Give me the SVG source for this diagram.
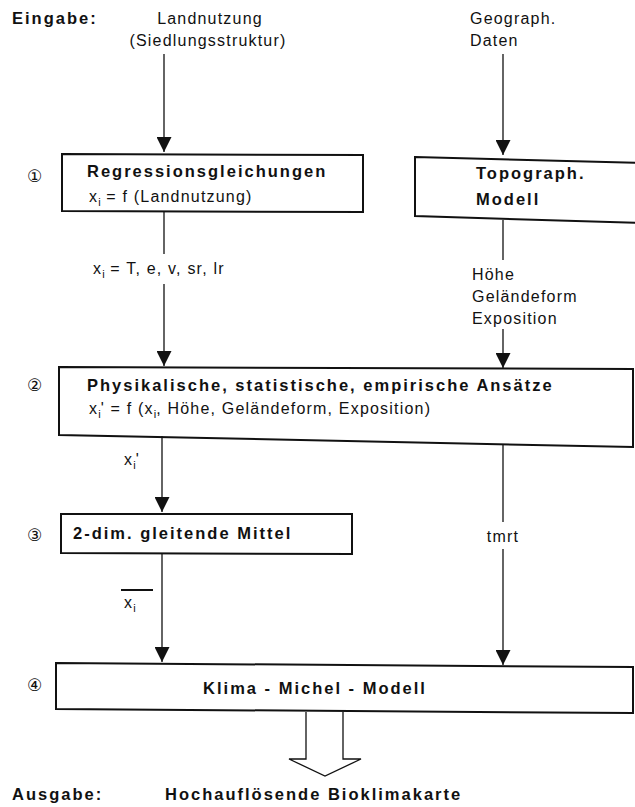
<svg xmlns="http://www.w3.org/2000/svg" width="635" height="807" viewBox="0 0 635 807">
  <style>
    text { font-family: "Liberation Sans", Arial, sans-serif; font-size: 16px; fill: #111; letter-spacing: 1.2px; }
    .b { font-size: 16.5px; font-weight: bold; letter-spacing: 2px; }
    .num { font-family: "DejaVu Sans", sans-serif; font-size: 17px; letter-spacing: 0; }
    .sub { font-size: 11px; letter-spacing: 0; }
    .box { fill: #fff; stroke: #111; stroke-width: 2; }
    .ln { stroke: #111; stroke-width: 1.3; fill: none; }
  </style>
  <defs>
    <marker id="tri" viewBox="0 0 10 10" refX="10" refY="5" markerWidth="15" markerHeight="15" markerUnits="userSpaceOnUse" orient="auto">
      <path d="M0,0 L10,5 L0,10 Z" fill="#111"/>
    </marker>
  </defs>
  <rect width="635" height="807" fill="#fff"/>

  <!-- side labels: input/output headings and step numbers -->
  <g id="labels">
    <text x="27" y="182" class="num">①</text>
    <text x="27" y="391" class="num">②</text>
    <text x="27" y="541" class="num">③</text>
    <text x="27" y="691" class="num">④</text>
    <text x="12" y="24" class="b">Eingabe:</text>
    <text x="12" y="800" class="b">Ausgabe:</text>
  </g>

  <!-- inputs -->
  <g id="in-landnutzung">
    <text x="210" y="24" text-anchor="middle">Landnutzung</text>
    <text x="208" y="46" text-anchor="middle">(Siedlungsstruktur)</text>
  </g>
  <g id="in-geodaten">
    <text x="470" y="24">Geograph.</text>
    <text x="470" y="46">Daten</text>
  </g>

  <!-- process boxes -->
  <g id="n1">
    <path class="box" d="M62,154 L363,155 L363,212 L62,211 Z"/>
    <text x="87" y="177" class="b">Regressionsgleichungen</text>
    <text x="89" y="202">x<tspan class="sub" dy="4">i</tspan><tspan dy="-4"> = f (Landnutzung)</tspan></text>
  </g>
  <g id="n2">
    <path class="box" d="M415,157 L640,163 L640,223 L415,216 Z"/>
    <text x="476" y="179" class="b">Topograph.</text>
    <text x="476" y="205" class="b">Modell</text>
  </g>
  <g id="n3">
    <path class="box" d="M59,367 L633,369 L633,447 L59,435 Z"/>
    <text x="87" y="391" class="b">Physikalische, statistische, empirische Ansätze</text>
    <text x="89" y="414">x<tspan class="sub" dy="4">i</tspan><tspan dy="-4">' = f (x</tspan><tspan class="sub" dy="4">i</tspan><tspan dy="-4">, Höhe, Geländeform, Exposition)</tspan></text>
  </g>
  <g id="n4">
    <path class="box" d="M61,514 L352,514 L352,554 L61,553 Z"/>
    <text x="73" y="539" class="b">2-dim. gleitende Mittel</text>
  </g>
  <g id="n5">
    <path class="box" d="M56,663 L633,667 L633,713 L56,709 Z"/>
    <text x="315" y="694" class="b" text-anchor="middle">Klima  -  Michel  -  Modell</text>
  </g>

  <!-- output -->
  <g id="out">
    <text x="165" y="800" class="b">Hochauflösende Bioklimakarte</text>
  </g>

  <!-- connectors with their labels -->
  <g id="connectors">
    <line class="ln" x1="164" y1="54" x2="164" y2="152" marker-end="url(#tri)"/>
    <line class="ln" x1="503" y1="54" x2="503" y2="155" marker-end="url(#tri)"/>

    <line class="ln" x1="164" y1="212" x2="164" y2="254"/>
    <text x="93" y="274">x<tspan class="sub" dy="4">i</tspan><tspan dy="-4"> = T, e, v, sr, lr</tspan></text>
    <line class="ln" x1="164" y1="284" x2="164" y2="366" marker-end="url(#tri)"/>

    <line class="ln" x1="503" y1="220" x2="503" y2="260"/>
    <text x="472" y="280">Höhe</text>
    <text x="472" y="302">Geländeform</text>
    <text x="472" y="324">Exposition</text>
    <line class="ln" x1="503" y1="329" x2="503" y2="368" marker-end="url(#tri)"/>

    <line class="ln" x1="162" y1="436" x2="162" y2="512" marker-end="url(#tri)"/>
    <text x="124" y="465">x<tspan class="sub" dy="4">i</tspan><tspan dy="-4">'</tspan></text>

    <line class="ln" x1="503" y1="445" x2="503" y2="522"/>
    <text x="503" y="542" text-anchor="middle">tmrt</text>
    <line class="ln" x1="503" y1="549" x2="503" y2="665" marker-end="url(#tri)"/>

    <line class="ln" x1="162" y1="554" x2="162" y2="662" marker-end="url(#tri)"/>
    <line x1="121" y1="590" x2="153" y2="590" stroke="#111" stroke-width="2"/>
    <text x="124" y="608">x<tspan class="sub" dy="4">i</tspan></text>

    <path class="ln" d="M306,712 L306,759 L289,759 L325,776 L361,759 L343,759 L343,712" stroke-width="1.5"/>
  </g>
</svg>
